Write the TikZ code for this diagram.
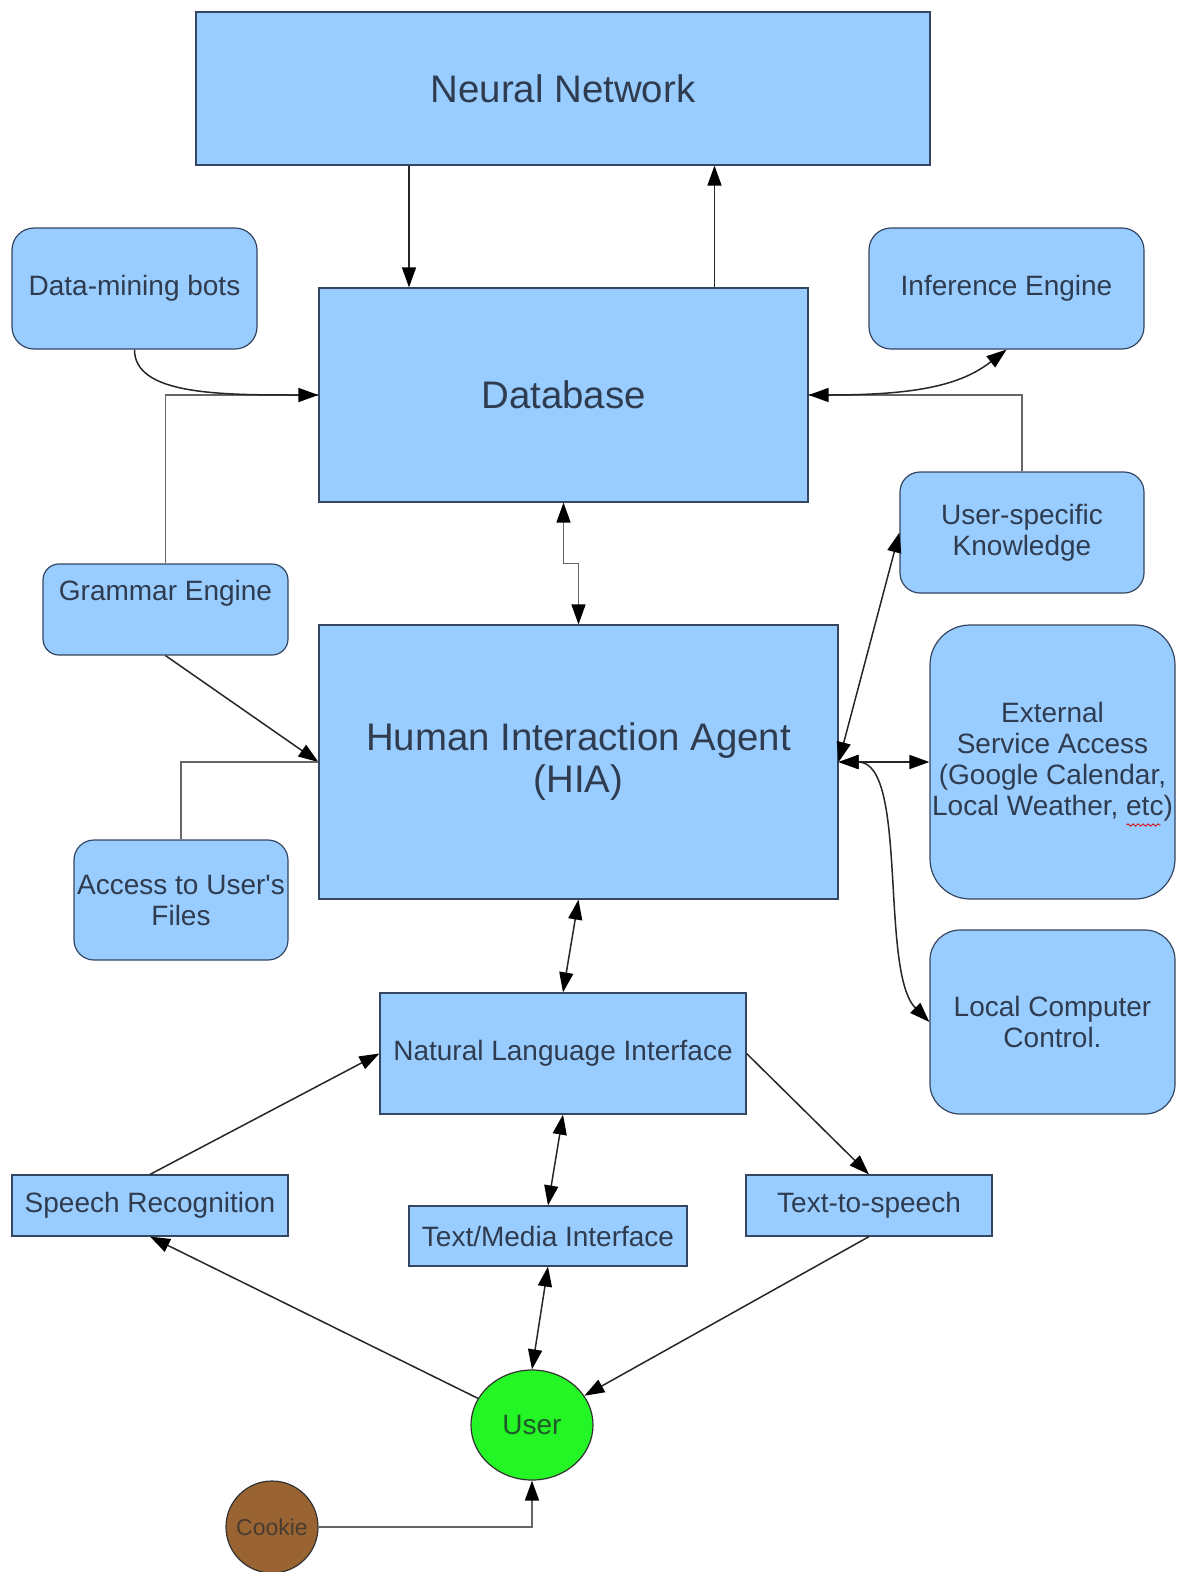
\documentclass[tikz,border=0pt]{standalone}
\usepackage{fontspec}
\setmainfont{Liberation Sans}
\usetikzlibrary{arrows.meta,shapes.geometric,calc,decorations.pathmorphing}
\tikzset{every picture/.style={line width=0.75pt}}

\definecolor{boxblue}{RGB}{153,204,255}
\definecolor{boxedge}{RGB}{52,70,98}
\definecolor{boxtext}{RGB}{47,60,80}
\definecolor{usergreen}{RGB}{36,245,36}
\definecolor{cookiebrown}{RGB}{153,100,50}

\tikzset{
  block/.style={draw=boxedge, fill=boxblue, text=boxtext, line width=1.2pt,
    inner sep=0pt, align=center, font=\fontsize{28}{31}\selectfont},
  bigblock/.style={block, font=\fontsize{38.4}{42}\selectfont},
  card/.style={block, rounded corners=#1},
  card/.default=20pt,
  link/.style={draw=black!85, line width=1.5pt},
  wire/.style={draw=black!60, line width=1.5pt},
  tipend/.style={-{Triangle[length=20pt,width=14pt,color=black]}},
  tipboth/.style={{Triangle[length=20pt,width=14pt,color=black]}-{Triangle[length=20pt,width=14pt,color=black]}},
}

\begin{document}
\begin{tikzpicture}[x=1pt,y=1pt,yscale=-1,xscale=1]
\useasboundingbox (0,0) rectangle (1179,1572);

%Shape: Rectangle [nn]
\node[bigblock, minimum width=734pt, minimum height=153pt] (nn) at (563,88.5) {Neural Network};
%Shape: Rectangle [db]
\node[bigblock, minimum width=489pt, minimum height=214pt] (db) at (563.5,395) {Database};
%Shape: Rectangle [hia]
\node[bigblock, minimum width=519pt, minimum height=274pt] (hia) at (578.5,762) {Human Interaction Agent\\(HIA)};

%Shape: Rounded Rect [dmb]
\node[card=22pt, minimum width=245pt, minimum height=121pt] (dmb) at (134.5,288.5) {Data-mining bots};
%Shape: Rounded Rect [ie]
\node[card=22pt, minimum width=275pt, minimum height=121pt] (ie) at (1006.5,288.5) {Inference Engine};
%Shape: Rounded Rect [usk]
\node[card, minimum width=244pt, minimum height=121pt] (usk) at (1022,532.5) {User-specific\\Knowledge};
%Shape: Rounded Rect [ge]
\node[card=16pt, minimum width=245pt, minimum height=91pt, text depth=38pt] (ge) at (165.5,609.5) {Grammar Engine};
%Shape: Rounded Rect [auf]
\node[card, minimum width=214pt, minimum height=120pt] (auf) at (181,900) {Access to User\textquotesingle s\\Files};
%Shape: Rounded Rect [esa]
\node[card=40pt, minimum width=245pt, minimum height=274pt] (esa) at (1052.5,762) {External\\Service Access\\(Google Calendar,\\Local Weather, etc)};
%Shape: Rounded Rect [lcc]
\node[card=30pt, minimum width=245pt, minimum height=184pt] (lcc) at (1052.5,1022) {Local Computer\\Control.};

%Shape: Rectangle [nli]
\node[block, minimum width=366pt, minimum height=121pt] (nli) at (563,1053.5) {Natural Language Interface};
%Shape: Rectangle [sr]
\node[block, minimum width=276pt, minimum height=61pt] (sr) at (150,1205.5) {Speech Recognition};
%Shape: Rectangle [tmi]
\node[block, minimum width=278pt, minimum height=60pt] (tmi) at (548,1236) {Text/Media Interface};
%Shape: Rectangle [tts]
\node[block, minimum width=246pt, minimum height=61pt] (tts) at (869,1205.5) {Text-to-speech};

%Shape: Ellipse [user]
\node[ellipse, draw=black!80, fill=usergreen, line width=1.2pt, inner sep=0pt, text={rgb,255:red,30;green,90;blue,40},
  minimum width=122pt, minimum height=110pt, font=\fontsize{28}{31}\selectfont] (user) at (532,1425) {User};
%Shape: Circle [cookie]
\node[circle, draw=black!80, fill=cookiebrown, line width=1.2pt, inner sep=0pt, text={rgb,255:red,72;green,60;blue,48},
  minimum size=92pt, font=\fontsize{23}{26}\selectfont] (cookie) at (272,1527) {Cookie};

%spell-check mark under etc
\draw[red!85!black, line width=0.8pt, decorate, decoration={snake, amplitude=1.2pt, segment length=5pt}]
  ([xshift=74,yshift=63]esa.center) -- ++(34,0);

%Straight Lines
\draw[link, tipend] ([xshift=-154]nn.south) coordinate (nnout) -- (nnout |- db.north);
\draw[link, tipend] ([xshift=151]db.north) coordinate (dbup) -- (dbup |- nn.south);
\draw[wire] (ge.north) |- (db.west);
\draw[wire] (usk.north) |- (db.east);
\draw[wire, tipboth] (db.south) |- ($(db.south)!0.5!(hia.north)$) -| (hia.north);
\draw[link, tipend] (ge.south) -- (hia.west);
\draw[wire] (auf.north) |- (hia.west);
\draw[link, tipboth] (hia.east) -- (usk.west);
\draw[link, tipboth] (hia.east) -- (esa.west);
\draw[link, tipboth] (hia.south) -- (nli.north);
\draw[link, tipend] (sr.north) -- (nli.west);
\draw[link, tipend] (nli.east) -- (tts.north);
\draw[link, tipboth] (nli.south) -- (tmi.north);
\draw[link, tipend] (user) -- (sr.south);
\draw[link, tipboth] (tmi.south) -- (user.north);
\draw[link, tipend] (tts.south) -- (user);
\draw[wire, tipend] (cookie.east) -| (user.south);

%Curve Lines
\draw[link, tipend] (dmb.south) .. controls +(0,45) and +(-100,0) .. (db.west);
\draw[link, tipboth] (db.east) .. controls +(110,0) and +(-45,35) .. (ie.south);
\draw[link, tipboth] (hia.east) .. controls +(70,0) and +(-50,-50) .. (lcc.west);

\end{tikzpicture}
\end{document}
